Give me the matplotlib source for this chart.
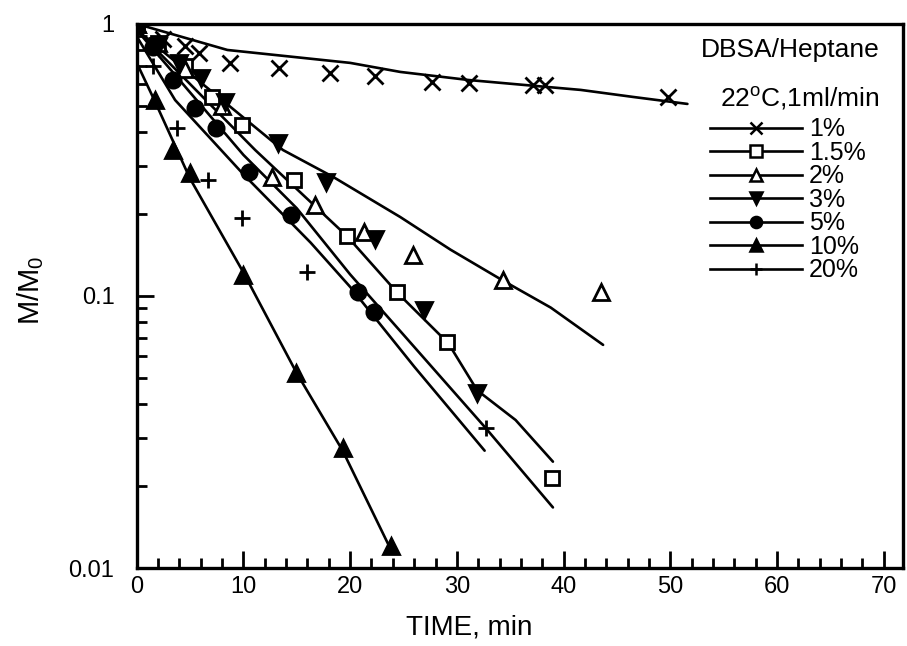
import matplotlib
matplotlib.use("Agg")
import matplotlib.pyplot as plt
from matplotlib.lines import Line2D
from matplotlib.ticker import FixedLocator, FixedFormatter, MultipleLocator, LogLocator, NullFormatter

plt.rcParams['font.family'] = ['Liberation Sans', 'DejaVu Sans']
plt.rcParams['mathtext.fontset'] = 'custom'
plt.rcParams['mathtext.rm'] = 'Liberation Sans'
plt.rcParams['mathtext.it'] = 'Liberation Sans'

# ---- data ----
labels = ['1%', '1.5%', '2%', '3%', '5%', '10%', '20%']
markers = ['x', 's', '^', 'v', 'o', '^', '+']
filled = [True, False, False, True, True, True, True]

t_1 = [0, 2.5, 4.5, 5.8, 8.7, 13.3, 18.1, 22.3, 27.7, 31.1, 37.1, 38.3, 49.8]
y_1 = [1.0, 0.88, 0.83, 0.78, 0.72, 0.69, 0.66, 0.644, 0.612, 0.607, 0.597, 0.597, 0.539]

t_15 = [0, 2.0, 4.5, 7.1, 9.9, 14.7, 19.7, 24.4, 29.1, 38.9]
y_15 = [1.0, 0.85, 0.7, 0.54, 0.425, 0.267, 0.166, 0.103, 0.068, 0.0215]

t_2 = [0, 2.0, 4.5, 8.0, 12.7, 16.7, 21.3, 25.9, 34.3, 43.5]
y_2 = [1.0, 0.85, 0.68, 0.5, 0.274, 0.216, 0.172, 0.142, 0.114, 0.103]

t_3 = [0, 2.0, 4.0, 6.0, 8.3, 13.2, 17.7, 22.3, 26.9, 31.9]
y_3 = [1.0, 0.83, 0.72, 0.633, 0.517, 0.365, 0.262, 0.162, 0.089, 0.044]

t_5 = [0, 1.5, 3.4, 5.5, 7.4, 10.5, 14.5, 20.7, 22.2]
y_5 = [1.0, 0.82, 0.623, 0.49, 0.415, 0.286, 0.198, 0.103, 0.087]

t_10 = [0, 1.7, 3.4, 5.0, 10.0, 14.9, 19.3, 23.8]
y_10 = [1.0, 0.525, 0.344, 0.283, 0.119, 0.052, 0.0277, 0.012]

t_20 = [0, 1.5, 3.8, 6.7, 9.9, 16.0, 32.7]
y_20 = [1.0, 0.7, 0.415, 0.267, 0.194, 0.123, 0.0327]

# fitted curves drawn on the figure
fit_t_1 = [0, 8.5, 20.0, 24.7, 31.1, 36.2, 41.6, 46.5, 51.6]
fit_y_1 = [1.0, 0.802, 0.719, 0.666, 0.622, 0.597, 0.572, 0.539, 0.508]

fit_t_2 = [0.3, 13.7, 18.4, 24.7, 29.4, 34.3, 38.8, 43.7]
fit_y_2 = [0.93, 0.344, 0.274, 0.195, 0.148, 0.114, 0.0906, 0.0661]

fit_t_3 = [0, 11.1, 19.7, 24.4, 29.2, 31.9, 35.5, 39.0]
fit_y_3 = [0.95, 0.344, 0.166, 0.103, 0.067, 0.045, 0.035, 0.0246]

fit_t_15 = [0, 5, 10, 15, 20, 25, 32.7, 39.0]
fit_y_15 = [0.95, 0.56, 0.33, 0.21, 0.12, 0.072, 0.0327, 0.0167]

fit_t_5 = [0, 3.6, 10, 16.3, 20, 26, 32.6]
fit_y_5 = [0.9, 0.525, 0.28, 0.157, 0.108, 0.055, 0.027]

fit_t_10 = [0, 1.7, 5, 10, 15, 19.3, 23.9]
fit_y_10 = [0.72, 0.52, 0.27, 0.122, 0.052, 0.027, 0.0115]

series_t = [t_1, t_15, t_2, t_3, t_5, t_10, t_20]
series_y = [y_1, y_15, y_2, y_3, y_5, y_10, y_20]
fits = [(fit_t_1, fit_y_1), (fit_t_2, fit_y_2), (fit_t_3, fit_y_3),
        (fit_t_15, fit_y_15), (fit_t_5, fit_y_5), (fit_t_10, fit_y_10)]

x_ticks = [0, 10, 20, 30, 40, 50, 60, 70]
y_ticks = [0.01, 0.1, 1]
y_ticklabels = ['0.01', '0.1', '1']

# ---- figure ----
fig = plt.figure(figsize=(9.07, 6.46), dpi=100)
ax = fig.add_axes([0.1507, 0.1207, 0.9956 - 0.1507, 0.963 - 0.1207])
ax.set_yscale('log')
ax.set_xlim(0, 71.8)
ax.set_ylim(0.01, 1)

for ft, fy in fits:
    ax.plot(ft, fy, color='black', lw=1.9, solid_capstyle='round', zorder=2)

ms = [11, 10, 11, 11, 11, 11, 12]
for t, y, m, f, s in zip(series_t, series_y, markers, filled, ms):
    ax.plot(t, y, linestyle='none', marker=m, markersize=s,
            markerfacecolor='black' if f else 'white',
            markeredgecolor='black', markeredgewidth=2.0, zorder=3)

ax.xaxis.set_major_locator(FixedLocator(x_ticks))
ax.xaxis.set_minor_locator(MultipleLocator(2))
ax.yaxis.set_major_locator(FixedLocator(y_ticks))
ax.yaxis.set_major_formatter(FixedFormatter(y_ticklabels))
ax.yaxis.set_minor_locator(LogLocator(base=10, subs=range(2, 10)))
ax.yaxis.set_minor_formatter(NullFormatter())

ax.tick_params(which='both', direction='in', width=2, labelsize=17, colors='black')
ax.tick_params(which='major', length=12)
ax.tick_params(which='minor', length=7)
ax.tick_params(axis='x', which='major', pad=6)
ax.tick_params(axis='y', which='major', pad=16)
ax.tick_params(axis='x', which='both', top=False)
ax.tick_params(axis='y', which='both', right=False)
for sp in ax.spines.values():
    sp.set_linewidth(2.4)

ax.set_xlabel('TIME, min', fontsize=20)
ax.xaxis.set_label_coords(0.434, -0.085)
ax.set_ylabel(r'M/M$_0$', fontsize=21)
ax.yaxis.set_label_coords(-0.118, 0.51)

ax.text(0.97, 0.975, 'DBSA/Heptane', transform=ax.transAxes, ha='right', va='top', fontsize=19)
ax.text(0.97, 0.887, r'22$^{\mathrm{o}}$C,1ml/min', transform=ax.transAxes, ha='right', va='top', fontsize=19)

handles = []
for m, f in zip(markers, filled):
    handles.append(Line2D([], [], color='black', lw=1.9, marker=m, markersize=8,
                          markerfacecolor='black' if f else 'white',
                          markeredgecolor='black', markeredgewidth=1.8))
leg = ax.legend(handles, labels, loc='upper left', bbox_to_anchor=(0.748, 0.828),
                frameon=False, fontsize=18, handlelength=3.7, handletextpad=0.25,
                labelspacing=-0.02, borderpad=0, borderaxespad=0)

fig.savefig('out.png', dpi=100)
